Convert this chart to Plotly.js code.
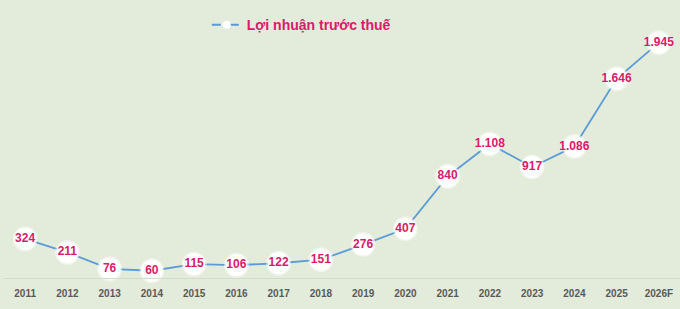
<!DOCTYPE html>
<html><head><meta charset="utf-8">
<script src="https://cdn.plot.ly/plotly-3.0.1.min.js"></script>
<style>html,body{margin:0;padding:0;background:#e3ecdb}</style>
</head><body>
<div id="chart" style="width:680px;height:309px"></div>
<script>
const years = ["2011","2012","2013","2014","2015","2016","2017","2018","2019","2020","2021","2022","2023","2024","2025","2026F"];
const profit = [324,211,76,60,115,106,122,151,276,407,840,1108,917,1086,1646,1945];
const seriesName = "Lợi nhuận trước thuế";

const traces = [
  {
    x: years, y: profit, type: "scatter", mode: "lines+markers", showlegend: false,
    line: {color: "#5b9bd5", width: 1.8},
    marker: {size: 22, color: "rgba(255,255,255,0.95)", line: {color: "rgba(255,255,255,0.45)", width: 3}},
    cliponaxis: false, hoverinfo: "skip"
  },
  {
    x: years, y: profit, type: "scatter", mode: "text", showlegend: false,
    texttemplate: "%{y:,}", textposition: "middle center",
    textfont: {family: "Liberation Sans, Arial, sans-serif", size: 12, color: "#d81b6a", weight: "bold"},
    cliponaxis: false, hoverinfo: "skip"
  },
  {
    x: [null], y: [null], type: "scatter", mode: "lines+markers", name: seriesName,
    line: {color: "#5b9bd5", width: 1.8, dash: "dash"},
    marker: {size: 8, color: "#ffffff"},
    hoverinfo: "skip"
  }
];

const layout = {
  width: 680, height: 309,
  paper_bgcolor: "#e3ecdb", plot_bgcolor: "#e3ecdb",
  margin: {l: 4, r: 0, t: 20, b: 31},
  separators: ",.",
  showlegend: true,
  legend: {
    x: 0.30, y: 0.98, xanchor: "left", yanchor: "middle", orientation: "h",
    bgcolor: "rgba(0,0,0,0)",
    font: {family: "Liberation Sans, Arial, sans-serif", size: 14, color: "#d81b6a", weight: "bold"},
    itemwidth: 30
  },
  xaxis: {
    type: "category", range: [-0.5, 15.5], showgrid: false, zeroline: false,
    showline: true, linecolor: "#d3dccb", linewidth: 1,
    ticks: "", tickfont: {family: "Liberation Sans, Arial, sans-serif", size: 10, color: "#595959", weight: "bold"},
    ticklabelstandoff: 6
  },
  yaxis: {range: [0, 2132], visible: false, showgrid: false, zeroline: false, fixedrange: true}
};

Plotly.newPlot("chart", traces, layout, {displayModeBar: false, staticPlot: true});
</script>
</body></html>
